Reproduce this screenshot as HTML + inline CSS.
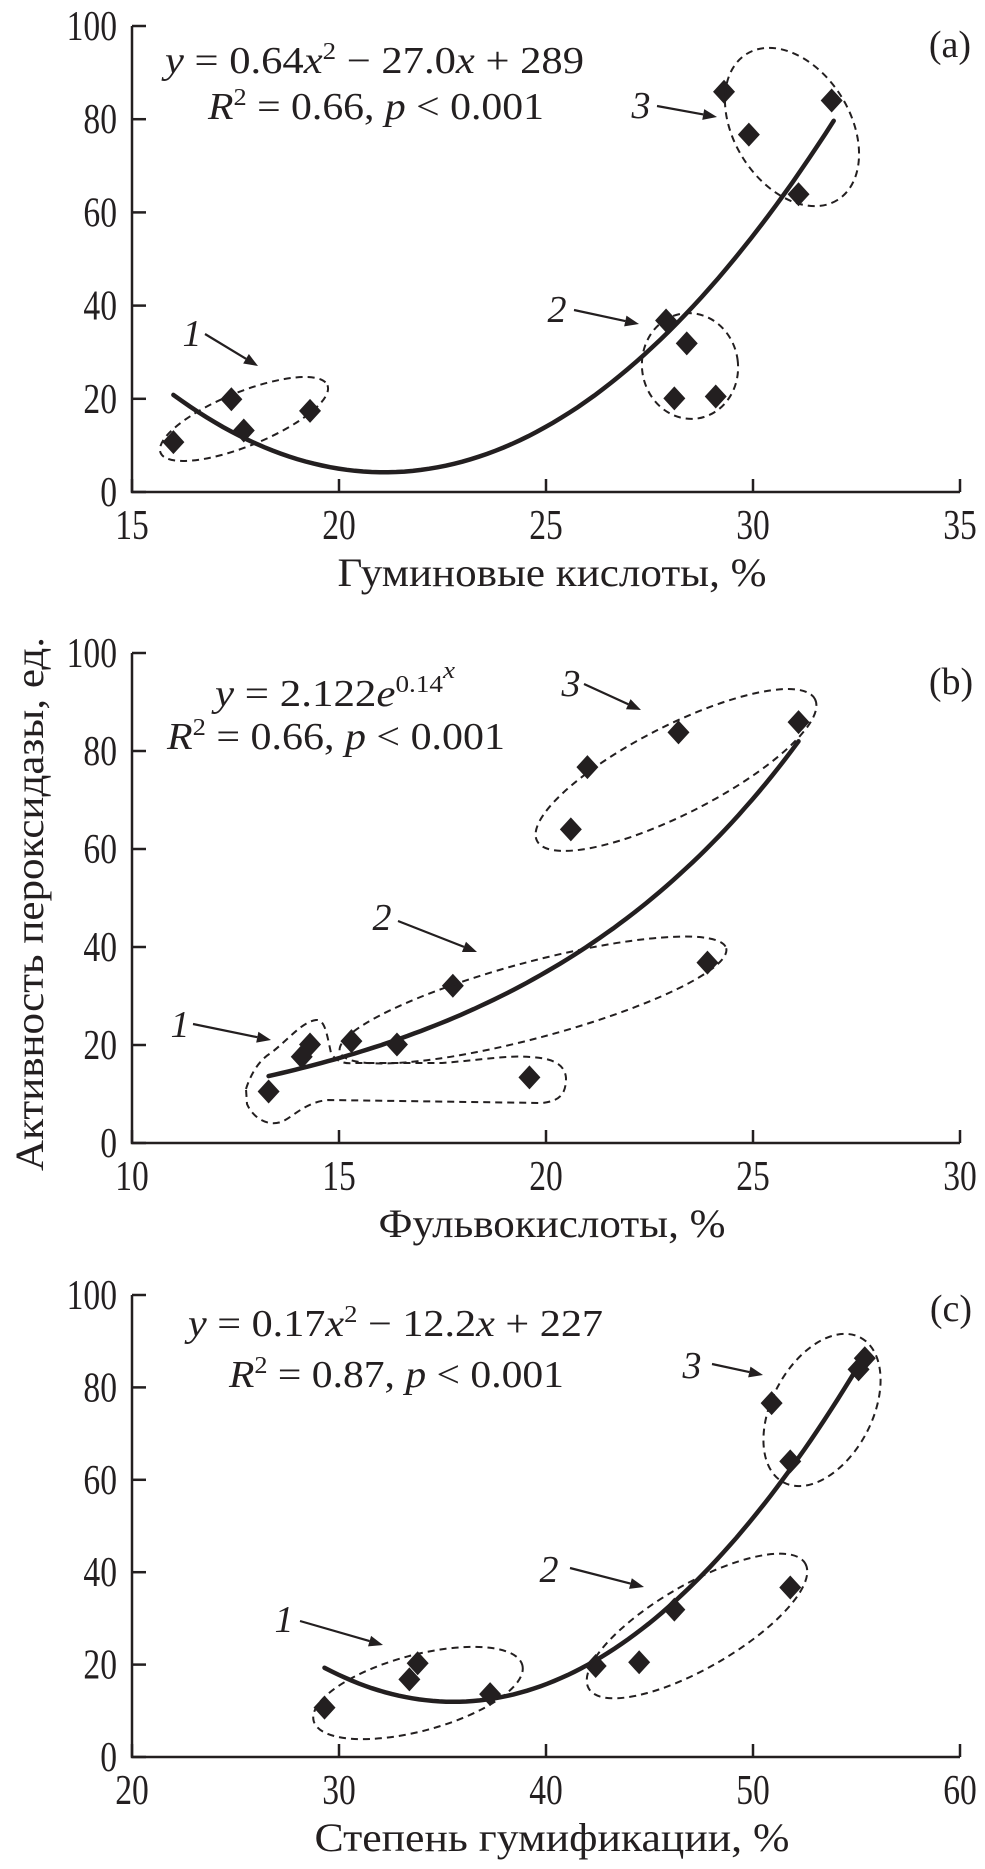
<!DOCTYPE html>
<html><head><meta charset="utf-8"><style>
html,body{margin:0;padding:0;background:#fff;}
svg{display:block;}
text{font-family:"Liberation Serif","Times New Roman",serif;fill:#231f20;}
</style></head><body>
<svg id="fig" width="985" height="1869" viewBox="0 0 985 1869" xmlns="http://www.w3.org/2000/svg"></svg>
<script>
// Panel (a): humic acids
const aX = [16.0, 17.4, 17.7, 19.3, 27.9, 28.4, 28.1, 29.1, 29.3, 29.9, 31.1, 31.9];
const aY = [10.7, 19.9, 13.2, 17.4, 36.8, 31.9, 20.1, 20.5, 85.9, 76.7, 63.9, 84.0];
const aXTicks = [15, 20, 25, 30, 35];
const aCoef = [0.64, -27.0, 289];
// Panel (b): fulvic acids
const bX = [13.3, 14.1, 14.3, 15.3, 16.4, 17.75, 19.6, 23.9, 20.6, 21.0, 23.2, 26.1];
const bY = [10.5, 17.6, 20.1, 20.8, 20.1, 32.1, 13.4, 36.8, 64.0, 76.7, 83.8, 85.9];
const bXTicks = [10, 15, 20, 25, 30];
const bCoef = [2.122, 0.14];
// Panel (c): humification degree
const cX = [29.3, 33.4, 33.8, 37.3, 42.4, 44.5, 46.2, 51.8, 50.9, 51.8, 55.1, 55.4];
const cY = [10.7, 16.8, 20.3, 13.6, 19.7, 20.5, 31.9, 36.7, 76.6, 64.0, 83.9, 86.3];
const cXTicks = [20, 30, 40, 50, 60];
const cCoef = [0.19, -13.5, 251.75];
const yTicks = [0, 20, 40, 60, 80, 100];

const NS = "http://www.w3.org/2000/svg";
const svg = document.getElementById('fig');
function mk(tag, attrs, parent, txt){
  const e = document.createElementNS(NS, tag);
  for (const k in attrs) e.setAttribute(k, attrs[k]);
  if (txt !== undefined) e.textContent = txt;
  (parent || svg).appendChild(e);
  return e;
}

function panel(id, xTicks, xs, ys, curveFn, cx0, cx1, y0px, y100px, title, titleLen){
  const g = mk('g', {});
  
  
  const L = 132, R = 960;
  const xmin = xTicks[0], xmax = xTicks[xTicks.length - 1];
  const sx = v => L + (v - xmin) / (xmax - xmin) * (R - L);
  const sy = v => y0px + (v / 100) * (y100px - y0px);
  const ax = mk('path', {d:`M${L} ${y100px}V${y0px}H${R}`, fill:'none', stroke:'#231f20', 'stroke-width':2.5}, g);
  
  
  yTicks.forEach(t => {
    mk('line', {x1:L, x2:L+14, y1:sy(t), y2:sy(t), stroke:'#231f20', 'stroke-width':2.5}, g);
    const tl = mk('text', {x:117, y:sy(t)+14, 'text-anchor':'end', 'font-size':42, transform:`translate(117 0) scale(0.8 1) translate(-117 0)`}, g, String(t));
    
    
  });
  xTicks.forEach(t => {
    mk('line', {x1:sx(t), x2:sx(t), y1:y0px, y2:y0px-13, stroke:'#231f20', 'stroke-width':2.5}, g);
    const tl = mk('text', {x:sx(t), y:y0px+47, 'text-anchor':'middle', 'font-size':42, transform:`translate(${sx(t)} 0) scale(0.8 1) translate(${-sx(t)} 0)`}, g, String(t));
    
    
  });
  const xt = mk('text', {x:552, y:y0px+94, 'text-anchor':'middle', 'font-size':40, textLength:titleLen, lengthAdjust:'spacingAndGlyphs'}, g, title);
  
  
  let d = '';
  const N = 80;
  for (let i = 0; i <= N; i++){
    const v = cx0 + (cx1 - cx0) * i / N;
    d += (i ? 'L' : 'M') + sx(v).toFixed(1) + ' ' + sy(curveFn(v)).toFixed(1);
  }
  const cv = mk('path', {d, fill:'none', stroke:'#231f20', 'stroke-width':4.5, 'stroke-linecap':'round'}, g);
  
  
  xs.forEach((v, i) => {
    const px = sx(v), py = sy(ys[i]);
    const p = mk('path', {d:`M${px} ${py-12}L${px+11} ${py}L${px} ${py+12}L${px-11} ${py}Z`, fill:'#231f20'}, g);
    
    
  });
  return g;
}

function ell(cx, cy, rx, ry, ang){
  const e = mk('ellipse', {cx, cy, rx, ry, transform:`rotate(${ang} ${cx} ${cy})`, fill:'none', stroke:'#231f20', 'stroke-width':2, 'stroke-dasharray':'7 5'});
  
  
}
function arrow(x1, y1, x2, y2, lx, ly, label){
  const a = Math.atan2(y2 - y1, x2 - x1), h = 14, w = 5.5;
  const bx = x2 - h * Math.cos(a), by = y2 - h * Math.sin(a);
  const ln = mk('line', {x1, y1, x2:bx, y2:by, stroke:'#231f20', 'stroke-width':2.2});
  
  
  const hd = mk('path', {d:`M${x2} ${y2}L${bx - w*Math.sin(a)} ${by + w*Math.cos(a)}L${bx + w*Math.sin(a)} ${by - w*Math.cos(a)}Z`, fill:'#231f20'});
  
  
  const t = mk('text', {x:lx, y:ly, 'text-anchor':'middle', 'font-size':38, 'font-style':'italic'}, svg, label);
  
  
}
function rich(x, y, len, parts, name){
  const t = mk('text', {x, y, 'font-size':38, textLength:len, lengthAdjust:'spacingAndGlyphs'});
  
  
  parts.forEach(p => {
    const s = mk('tspan', {}, t, p[0]);
    if (p[1] === 'i') s.setAttribute('font-style', 'italic');
    if (p[1] === 'sup') { s.setAttribute('font-size', 24); s.setAttribute('dy', -14); }
    if (p[1] === 'supi') { s.setAttribute('font-size', 24); s.setAttribute('dy', -14); s.setAttribute('font-style','italic'); }
    if (p[1] === 'down') { s.setAttribute('dy', 14); }
  });
}
function plabel(x, y, s){
  const t = mk('text', {x, y, 'font-size':38, 'text-anchor':'middle'}, svg, s);
  
  
}

// Panel a
panel('a', aXTicks, aX, aY, v => aCoef[0]*v*v + aCoef[1]*v + aCoef[2], 16.0, 31.95, 492, 26, 'Гуминовые кислоты, %', 429);
ell(244, 419, 90, 27, -22);
ell(690, 366, 48, 53, -8);
ell(792, 127, 86, 58, 58);
arrow(205, 334, 258, 366, 192, 346, '1');
arrow(574, 310, 639, 324, 557, 322, '2');
arrow(657, 106, 717, 117, 641, 118, '3');
rich(165, 73, 419, [['y','i'],[' = 0.64'],['x','i'],['2','sup'],[' − 27.0','down'],['x','i'],[' + 289']], 'equation');
rich(208, 119, 336, [['R','i'],['2','sup'],[' = 0.66, ','down'],['p','i'],[' < 0.001']], 'r-squared');
plabel(950, 57, '(a)');

// Panel b
panel('b', bXTicks, bX, bY, v => bCoef[0]*Math.exp(bCoef[1]*v), 13.3, 26.1, 1143, 653, 'Фульвокислоты, %', 347);
ell(676, 770, 156, 44, -27);
ell(533, 1000, 200, 38, -15);
{
  const bl = mk('path', {d:'M246 1089C252 1070 262 1058 271 1053C290 1038 302 1022 316 1020C325 1019 327 1035 331 1053C336 1062 345 1064 354 1063L442 1063C480 1060 510 1055 530 1057C552 1058 565 1064 566 1078C566 1094 560 1101 542 1103L328 1100C305 1102 292 1118 281 1122C266 1127 252 1116 247 1104Z', fill:'none', stroke:'#231f20', 'stroke-width':2, 'stroke-dasharray':'7 5'});
  
  
}
arrow(193, 1024, 271, 1040, 180, 1037, '1');
arrow(398, 921, 477, 952, 382, 930, '2');
arrow(584, 684, 641, 710, 571, 696, '3');
rich(215, 706, 240, [['y','i'],[' = 2.122'],['e','i'],['0.14','sup'],['x','supi']], 'equation');
rich(167, 749, 338, [['R','i'],['2','sup'],[' = 0.66, ','down'],['p','i'],[' < 0.001']], 'r-squared');
plabel(951, 694, '(b)');
{
  const yt = mk('text', {x:0, y:0, 'font-size':40, 'text-anchor':'middle', textLength:534, lengthAdjust:'spacingAndGlyphs', transform:'translate(43 904) rotate(-90)'}, svg, 'Активность пероксидазы, ед.');
  
  
}

// Panel c
panel('c', cXTicks, cX, cY, v => cCoef[0]*v*v + cCoef[1]*v + cCoef[2], 29.3, 55.4, 1757, 1295, 'Степень гумификации, %', 475);
ell(418, 1693, 108, 38, -15);
ell(697, 1626, 125, 42, -30);
ell(822, 1410, 82, 50, -62);
arrow(300, 1621, 383, 1645, 284, 1632, '1');
arrow(570, 1568, 644, 1587, 549, 1582, '2');
arrow(712, 1364, 763, 1375, 692, 1378, '3');
rich(188, 1336, 415, [['y','i'],[' = 0.17'],['x','i'],['2','sup'],[' − 12.2','down'],['x','i'],[' + 227']], 'equation');
rich(229, 1387, 335, [['R','i'],['2','sup'],[' = 0.87, ','down'],['p','i'],[' < 0.001']], 'r-squared');
plabel(951, 1321, '(c)');
</script>
</body></html>
